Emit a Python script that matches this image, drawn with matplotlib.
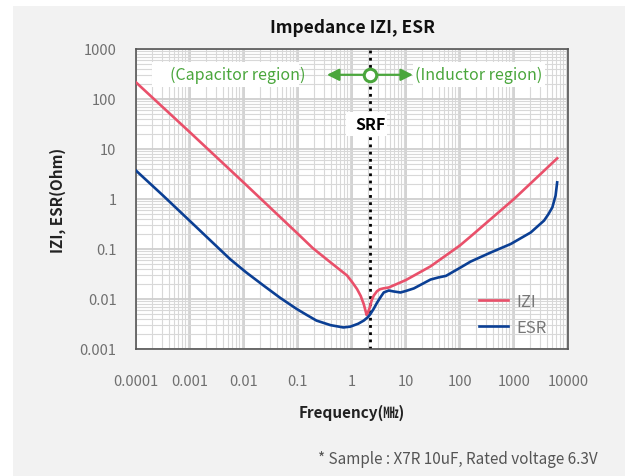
import matplotlib
matplotlib.use("Agg")
import matplotlib.pyplot as plt
from matplotlib.patches import Rectangle
from matplotlib.ticker import LogLocator, FixedLocator, NullFormatter
import matplotlib.transforms as mtransforms

plt.rcParams['font.family'] = ['Noto Sans CJK KR', 'DejaVu Sans']

# |Z| del capacitor (Ohm) frente a la frecuencia (MHz)
freq_z = [1e-4, 1e-3, 1e-2, 0.1, 0.19, 0.4, 0.81, 1.0, 1.24, 1.45, 1.65, 1.78, 1.86, 1.95,
          2.14, 2.3, 2.53, 2.9, 3.3, 3.8, 4.8, 10, 28.5, 100, 157, 1000, 3000, 6300]
z_mag = [215, 21.5, 2.1, 0.2, 0.103, 0.054, 0.0295, 0.022, 0.0158, 0.0115, 0.0079, 0.0058, 0.0048,
         0.0052, 0.0068, 0.0092, 0.0117, 0.0143, 0.0157, 0.0163, 0.017, 0.024, 0.045, 0.118, 0.178,
         1.0, 3.05, 6.5]

# ESR (Ohm)
freq_esr = [1e-4, 3.2e-4, 1.33e-3, 5.5e-3, 0.011, 0.023, 0.047, 0.095, 0.145, 0.22, 0.4, 0.69, 0.93,
            1.3, 1.65, 1.95, 2.19, 2.55, 2.92, 3.4, 3.87, 4.8, 5.8, 7.9, 10, 14, 20, 28.5, 40, 55, 71,
            100, 157, 370, 870, 2040, 3600, 4300, 5130, 5890, 6300]
esr = [3.7, 1.16, 0.27, 0.063, 0.034, 0.0186, 0.0105, 0.0063, 0.0048, 0.0037, 0.003, 0.0027, 0.0028,
       0.0032, 0.0037, 0.0043, 0.005, 0.0065, 0.0085, 0.011, 0.0135, 0.0148, 0.0142, 0.0135, 0.0145,
       0.0163, 0.02, 0.0245, 0.027, 0.029, 0.034, 0.042, 0.056, 0.085, 0.126, 0.214, 0.37, 0.49, 0.68,
       1.17, 2.15]

srf = 2.2  # frecuencia de autorresonancia (MHz)

x_ticks = [1e-4, 1e-3, 1e-2, 0.1, 1, 10, 100, 1000, 10000]
x_labels = ['0.0001', '0.001', '0.01', '0.1', '1', '10', '100', '1000', '10000']
y_ticks = [1e-3, 1e-2, 0.1, 1, 10, 100, 1000]
y_labels = ['0.001', '0.01', '0.1', '1', '10', '100', '1000']

rojo = '#e9506a'
azul = '#0b3f94'
verde = '#4aa63c'

fig = plt.figure(figsize=(6.25, 4.77), dpi=100)
fig.patch.set_facecolor('white')
# fondo gris de la lámina
fig.patches.append(Rectangle((13 / 625, 0), 1, 1 - 7 / 477, transform=fig.transFigure,
                             facecolor='#f2f2f2', edgecolor='none', zorder=-10))

ax = fig.add_axes([136 / 625, 1 - 350 / 477, 432 / 625, 300 / 477])
ax.set_facecolor('white')
ax.set_xscale('log')
ax.set_yscale('log')
ax.set_xlim(1e-4, 1e4)
ax.set_ylim(1e-3, 1e3)

ax.xaxis.set_major_locator(FixedLocator(x_ticks))
ax.yaxis.set_major_locator(FixedLocator(y_ticks))
ax.set_xticklabels(x_labels)
ax.set_yticklabels(y_labels)
ax.xaxis.set_minor_locator(LogLocator(base=10, subs=range(2, 10), numticks=20))
ax.yaxis.set_minor_locator(LogLocator(base=10, subs=range(2, 10), numticks=20))
ax.xaxis.set_minor_formatter(NullFormatter())
ax.yaxis.set_minor_formatter(NullFormatter())
ax.tick_params(which='both', length=0)
ax.tick_params(axis='x', pad=18, labelsize=10.5, labelcolor='#707070')
ax.tick_params(axis='y', pad=14, labelsize=10.5, labelcolor='#707070')
for lab in ax.get_xticklabels() + ax.get_yticklabels():
    lab.set_fontweight('light')

ax.grid(which='major', color='#cfcfcf', lw=1.3)
ax.grid(which='minor', color='#d8d8d8', lw=0.8)
ax.set_axisbelow(True)
for s in ax.spines.values():
    s.set_color('#555555')
    s.set_linewidth(1.2)

ax.plot(freq_z, z_mag, color=rojo, lw=1.9, label='IZI', zorder=3)
ax.plot(freq_esr, esr, color=azul, lw=1.9, label='ESR', zorder=3)

# línea de SRF
ax.axvline(srf, color='black', lw=2, ls=(0, (1, 1.6)), zorder=2)

mixto = mtransforms.blended_transform_factory(ax.transData, ax.transAxes)

# cajas blancas de las etiquetas
ax.add_patch(Rectangle((0.037, 0.873), 0.341, 0.084, transform=ax.transAxes,
                       facecolor='white', edgecolor='none', zorder=1.5))
ax.add_patch(Rectangle((0.641, 0.873), 0.306, 0.084, transform=ax.transAxes,
                       facecolor='white', edgecolor='none', zorder=1.5))
ax.add_patch(Rectangle((0.4861, 0.709), 0.095, 0.082, transform=ax.transAxes,
                       facecolor='white', edgecolor='none', zorder=2.5))

ax.text(0.235, 0.914, '(Capacitor region)', transform=ax.transAxes, color=verde,
        fontsize=11.5, ha='center', va='center', zorder=4)
ax.text(0.794, 0.914, '(Inductor region)', transform=ax.transAxes, color=verde,
        fontsize=11.5, ha='center', va='center', zorder=4)
ax.text(srf, 0.75, 'SRF', transform=mixto, color='black', fontsize=11.5,
        fontweight='bold', ha='center', va='center', zorder=4)

# flechas verdes desde la SRF
for punta in (0.442, 0.641):
    ax.annotate('', xy=(punta, 0.914), xycoords='axes fraction',
                xytext=(0.5417, 0.914), textcoords='axes fraction',
                arrowprops=dict(arrowstyle='-|>', color=verde, lw=1.6, mutation_scale=18,
                                shrinkA=0, shrinkB=0), zorder=3.5)
ax.plot([srf], [0.914], transform=mixto, marker='o', ms=9, mfc='white', mec=verde, mew=2.2,
        zorder=5, clip_on=False)

leg = ax.legend(loc='upper left', bbox_to_anchor=(0.795, 0.188), frameon=False,
                fontsize=12, handlelength=1.7, handletextpad=0.5, labelspacing=0.55,
                borderpad=0, borderaxespad=0)
for t in leg.get_texts():
    t.set_color('#777777')
    t.set_fontweight('light')

fig.text(352 / 625, 1 - 28 / 477, 'Impedance IZI, ESR', fontsize=12.5, fontweight='bold',
         ha='center', va='center', color='#111111')
fig.text(352 / 625, 1 - 413 / 477, 'Frequency(㎒)', fontsize=11, fontweight='bold',
         ha='center', va='center', color='#222222')
fig.text(58 / 625, 1 - 200 / 477, 'IZI, ESR(Ohm)', fontsize=11, fontweight='bold',
         ha='center', va='center', rotation=90, color='#222222')
fig.text(598 / 625, 1 - 460 / 477, '* Sample : X7R 10uF, Rated voltage 6.3V', fontsize=11,
         ha='right', va='center', color='#555555')

fig.savefig('out.png', dpi=100)
